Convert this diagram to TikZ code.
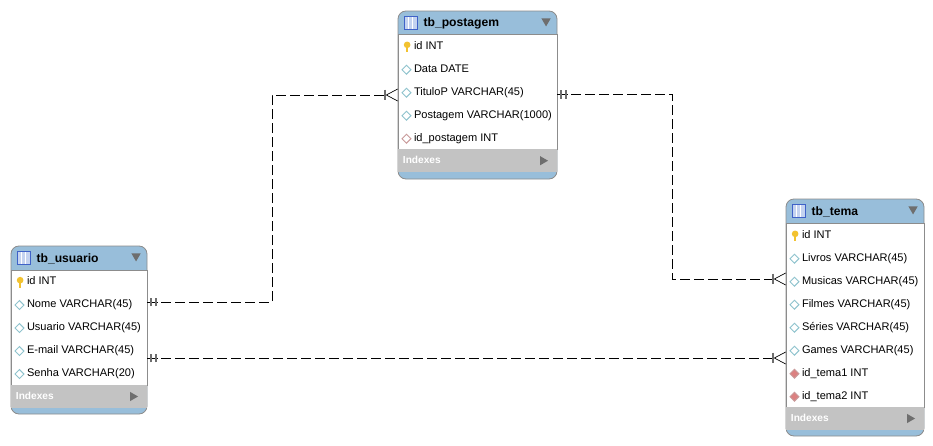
\documentclass[tikz,border=0pt]{standalone}
\usepackage{fontspec}
\setmainfont{Liberation Sans}
\usetikzlibrary{shapes.geometric,positioning,arrows.meta,decorations.markings}
\definecolor{headBlue}{HTML}{98BEDA}
\definecolor{frameGray}{HTML}{8C8C8C}
\definecolor{indexGray}{HTML}{C3C3C3}
\definecolor{markGray}{HTML}{6E6E6E}
\definecolor{attrTeal}{HTML}{8FC3CE}
\definecolor{fkRed}{HTML}{C99A9A}
\definecolor{fkFill}{HTML}{DC8080}
\definecolor{keyYellow}{HTML}{F2C230}
\definecolor{iconBlue}{HTML}{3F62C8}
\definecolor{iconFill}{HTML}{C4D3F0}

\begin{document}
\begin{tikzpicture}[x=.75pt,y=-.75pt]
    \useasboundingbox (0,0) rectangle (933,446);

    % Shapes
    \tikzstyle{tblBlock}=[rectangle, draw=frameGray, fill=headBlue, rounded corners=6pt, line width=.6pt, inner sep=0pt, outer sep=0pt]
    \tikzstyle{tblBody}=[rectangle, draw=frameGray, fill=white, line width=.6pt, inner sep=0pt, outer sep=0pt]
    \tikzstyle{tblIndex}=[rectangle, fill=indexGray, inner sep=0pt, outer sep=0pt, minimum height=17.25pt]
    \tikzstyle{tblTitle}=[inner sep=0pt, yshift=-.6pt, font=\bfseries\fontsize{9.1}{10}\selectfont]
    \tikzstyle{tblRow}=[inner sep=0pt, outer sep=0pt, minimum height=17.25pt, text height=6pt, text depth=1.7pt, font=\fontsize{8.28}{10}\selectfont]
    \tikzstyle{idxLabel}=[inner sep=0pt, text=white, yshift=.8pt, font=\bfseries\fontsize{7.6}{10}\selectfont]
    \tikzstyle{tblIcon}=[rectangle, draw=iconBlue, fill=iconFill, line width=.6pt, minimum width=10pt, minimum height=9.5pt, inner sep=0pt,
        path picture={\draw[white, line width=.5pt] (-2pt,-5pt) -- (-2pt,5pt) (1pt,-5pt) -- (1pt,5pt);}]
    \tikzstyle{menuMark}=[regular polygon, regular polygon sides=3, shape border rotate=180, fill=markGray, inner sep=0pt, minimum size=8pt]
    \tikzstyle{moreMark}=[regular polygon, regular polygon sides=3, shape border rotate=-90, fill=markGray, inner sep=0pt, minimum size=8pt]
    \tikzstyle{keyIcon}=[rectangle, inner sep=0pt, minimum width=5.5pt, minimum height=8.5pt,
        path picture={\fill[keyYellow] (0,1.4pt) circle (2.5pt); \fill[keyYellow] (-.9pt,1.4pt) rectangle (.9pt,-4.2pt);}]
    \tikzstyle{attrIcon}=[diamond, draw=attrTeal, fill=white, line width=.7pt, inner sep=0pt, minimum size=7pt]
    \tikzstyle{fkIcon}=[attrIcon, draw=fkRed]
    \tikzstyle{fkIconFill}=[attrIcon, draw=fkRed, fill=fkFill]
    \tikzstyle{relLine}=[line width=.7pt, dash pattern=on 7.5pt off 3pt,
        -{Bar[markGray,width=8pt,line width=1.4pt,sep=0pt]Straight Barb[black,reversed,length=8.5pt,width=9pt,line width=.5pt,sep=0pt]},
        postaction={decorate, decoration={markings,
            mark=at position .01pt with {\draw[-, solid, black, line width=.7pt] (0,0) -- (8.5pt,0);},
            mark=at position 3pt with {\draw[-, solid, markGray, line width=1.1pt] (0,-3.2pt) -- (0,3.2pt);},
            mark=at position 6.6pt with {\draw[-, solid, markGray, line width=1.1pt] (0,-3.2pt) -- (0,3.2pt);}}}]

    % Postagem
    \node[tblBlock, minimum width=119.25pt, minimum height=126pt] at (477.5,95) (tbPostagem) {};
    \node[tblBody, minimum width=119.25pt, minimum height=86.25pt, below=17.4pt of tbPostagem.north] (pBody) {};
    \node[tblIndex, minimum width=118.6pt, below=0pt of pBody.south] (pIndex) {};
    \node[tblIcon, right=4.4pt of tbPostagem.north west, anchor=north west, yshift=-3.8pt] (pIcon) {};
    \node[tblTitle, right=4pt of pIcon] (pTitle) {tb\_postagem};
    \node[menuMark, left=6pt of tbPostagem.north east, anchor=north east, yshift=-5.4pt] (pMenu) {};
    \node[tblRow, right=12pt of pBody.north west, anchor=north west, yshift=-.75pt] (pId) {id INT};
    \node[tblRow, below=0pt of pId.south west, anchor=north west] (pData) {Data DATE};
    \node[tblRow, below=0pt of pData.south west, anchor=north west] (pTitulo) {TituloP VARCHAR(45)};
    \node[tblRow, below=0pt of pTitulo.south west, anchor=north west] (pPost) {Postagem VARCHAR(1000)};
    \node[tblRow, below=0pt of pPost.south west, anchor=north west] (pFk) {id\_postagem INT};
    \node[keyIcon, left=2.2pt of pId.west] (pIdIcon) {};
    \node[attrIcon, left=1.8pt of pData.west] (pDataIcon) {};
    \node[attrIcon, left=1.8pt of pTitulo.west] (pTituloIcon) {};
    \node[attrIcon, left=1.8pt of pPost.west] (pPostIcon) {};
    \node[fkIcon, left=1.8pt of pFk.west] (pFkIcon) {};
    \node[idxLabel, right=3.2pt of pIndex.west] (pIdxText) {Indexes};
    \node[moreMark, left=6pt of pIndex.east] (pMore) {};

    % Usuario
    \node[tblBlock, minimum width=102pt, minimum height=126pt] at (79,330) (tbUsuario) {};
    \node[tblBody, minimum width=102pt, minimum height=86.25pt, below=18pt of tbUsuario.north] (uBody) {};
    \node[tblIndex, minimum width=101.4pt, below=0pt of uBody.south] (uIndex) {};
    \node[tblIcon, right=4.4pt of tbUsuario.north west, anchor=north west, yshift=-3.8pt] (uIcon) {};
    \node[tblTitle, right=4pt of uIcon] (uTitle) {tb\_usuario};
    \node[menuMark, left=6pt of tbUsuario.north east, anchor=north east, yshift=-5.4pt] (uMenu) {};
    \node[tblRow, right=12pt of uBody.north west, anchor=north west, yshift=-.4pt] (uId) {id INT};
    \node[tblRow, below=0pt of uId.south west, anchor=north west] (uNome) {Nome VARCHAR(45)};
    \node[tblRow, below=0pt of uNome.south west, anchor=north west] (uLogin) {Usuario VARCHAR(45)};
    \node[tblRow, below=0pt of uLogin.south west, anchor=north west] (uMail) {E-mail VARCHAR(45)};
    \node[tblRow, below=0pt of uMail.south west, anchor=north west] (uSenha) {Senha VARCHAR(20)};
    \node[keyIcon, left=2.2pt of uId.west] (uIdIcon) {};
    \node[attrIcon, left=1.8pt of uNome.west] (uNomeIcon) {};
    \node[attrIcon, left=1.8pt of uLogin.west] (uLoginIcon) {};
    \node[attrIcon, left=1.8pt of uMail.west] (uMailIcon) {};
    \node[attrIcon, left=1.8pt of uSenha.west] (uSenhaIcon) {};
    \node[idxLabel, right=3.2pt of uIndex.west] (uIdxText) {Indexes};
    \node[moreMark, left=6pt of uIndex.east] (uMore) {};

    % Tema
    \node[tblBlock, minimum width=103.5pt, minimum height=177.75pt] at (855,317.5) (tbTema) {};
    \node[tblBody, minimum width=103.5pt, minimum height=138pt, below=18pt of tbTema.north] (tBody) {};
    \node[tblIndex, minimum width=102.9pt, below=0pt of tBody.south] (tIndex) {};
    \node[tblIcon, right=4.4pt of tbTema.north west, anchor=north west, yshift=-3.8pt] (tIcon) {};
    \node[tblTitle, right=4pt of tIcon] (tTitle) {tb\_tema};
    \node[menuMark, left=6pt of tbTema.north east, anchor=north east, yshift=-5.4pt] (tMenu) {};
    \node[tblRow, right=12pt of tBody.north west, anchor=north west, yshift=-.9pt] (tId) {id INT};
    \node[tblRow, below=0pt of tId.south west, anchor=north west] (tLivros) {Livros VARCHAR(45)};
    \node[tblRow, below=0pt of tLivros.south west, anchor=north west] (tMusicas) {Musicas VARCHAR(45)};
    \node[tblRow, below=0pt of tMusicas.south west, anchor=north west] (tFilmes) {Filmes VARCHAR(45)};
    \node[tblRow, below=0pt of tFilmes.south west, anchor=north west] (tSeries) {Séries VARCHAR(45)};
    \node[tblRow, below=0pt of tSeries.south west, anchor=north west] (tGames) {Games VARCHAR(45)};
    \node[tblRow, below=0pt of tGames.south west, anchor=north west] (tFkA) {id\_tema1 INT};
    \node[tblRow, below=0pt of tFkA.south west, anchor=north west] (tFkB) {id\_tema2 INT};
    \node[keyIcon, left=2.2pt of tId.west] (tIdIcon) {};
    \node[attrIcon, left=1.8pt of tLivros.west] (tLivrosIcon) {};
    \node[attrIcon, left=1.8pt of tMusicas.west] (tMusicasIcon) {};
    \node[attrIcon, left=1.8pt of tFilmes.west] (tFilmesIcon) {};
    \node[attrIcon, left=1.8pt of tSeries.west] (tSeriesIcon) {};
    \node[attrIcon, left=1.8pt of tGames.west] (tGamesIcon) {};
    \node[fkIconFill, left=1.8pt of tFkA.west] (tFkAIcon) {};
    \node[fkIconFill, left=1.8pt of tFkB.west] (tFkBIcon) {};
    \node[idxLabel, right=3.2pt of tIndex.west] (tIdxText) {Indexes};
    \node[moreMark, left=6pt of tIndex.east] (tMore) {};

    % Arrows
    \coordinate (bendUser) at (272,95);
    \coordinate (bendTema) at (672,279);
    \coordinate (relStart) at ([yshift=-84pt]tbUsuario.north east);
    \draw[relLine] ([yshift=-42pt]tbUsuario.north east) -| (bendUser) -- ([yshift=-63pt]tbPostagem.north west);
    \draw[relLine] ([yshift=-62.6pt]tbPostagem.north east) -| (bendTema) -- ([yshift=-60pt]tbTema.north west);
    \draw[relLine] (relStart) -- (relStart -| tbTema.west);
\end{tikzpicture}
\end{document}
